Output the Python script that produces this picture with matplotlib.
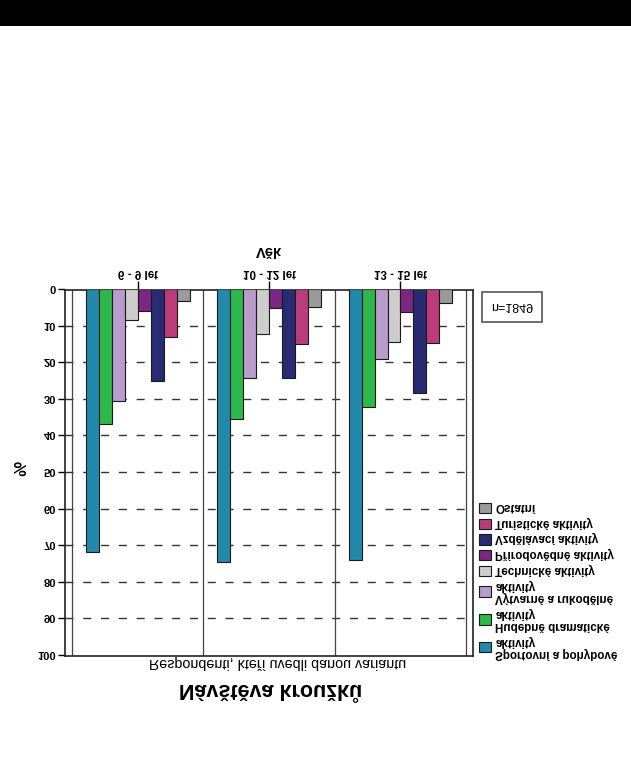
import matplotlib
matplotlib.use("Agg")
import matplotlib.pyplot as plt
import numpy as np

# --- DATA ---
groups = ["6 - 9 let", "10 - 12 let", "13 - 15 let"]
activities = [
    "Sportovní a pohybové\naktivity",
    "Hudebně dramatické\naktivity",
    "Výtvarné a rukodělné\naktivity",
    "Technické aktivity",
    "Přírodovědné aktivity",
    "Vzdělávací aktivity",
    "Turistické aktivity",
    "Ostatní",
]
values_6_9 = [71.8, 37.0, 30.6, 8.5, 5.9, 25.1, 13.2, 3.4]
values_10_12 = [74.5, 35.4, 24.3, 12.3, 5.3, 24.3, 15.1, 4.8]
values_13_15 = [74.1, 32.2, 19.0, 14.5, 6.4, 28.3, 14.7, 3.9]
colors = ["#2389AB", "#2DB84A", "#B99CCB", "#CDCDCD",
          "#7B2682", "#282A72", "#BC3C7B", "#9A9A9A"]
n_label = "n=1849"

# --- STYLE ---
plt.rcParams['font.family'] = ['Liberation Sans', 'DejaVu Sans']
plt.rcParams['lines.scale_dashes'] = False

W, H = 631, 763
fig = plt.figure(figsize=(W / 100, H / 100), dpi=100)

# figure coordinates: x = px/W, y = px/H measured from the top of the
# reference (the rendered picture is flipped top-bottom at the end)
def fx(px):
    return px / W

def fy(py):
    return py / H

ax = fig.add_axes([fx(65), fy(290), fx(473) - fx(65), fy(656) - fy(290)])

pad = 7 / 131.7
ax.set_xlim(-pad, 3 + pad)
ax.set_ylim(0, 100)

all_values = [values_6_9, values_10_12, values_13_15]
bar_w = 13 / 131.7
margin = 14 / 131.7
for g, vals in enumerate(all_values):
    for i, v in enumerate(vals):
        ax.bar(g + margin + i * bar_w, v, width=bar_w, align='edge',
               color=colors[i], edgecolor='#1a1a1a', linewidth=0.8,
               zorder=3, label=activities[i] if g == 0 else None)

# dashed grid and group separators
for yv in range(10, 100, 10):
    ax.axhline(yv, color='#333333', lw=1.0, dashes=(5.8, 7.0), zorder=1)
for xv in range(4):
    ax.axvline(xv, color='#444444', lw=0.9, zorder=2)

for sp in ax.spines.values():
    sp.set_color('#222222')
    sp.set_linewidth(1.2)

ax.set_yticks(np.arange(0, 101, 10))
ax.set_yticklabels([str(v) for v in range(0, 101, 10)],
                   fontsize=8, fontweight='bold')
ax.tick_params(axis='y', length=5, width=1.0, pad=1.5)
ax.set_xticks([0.5, 1.5, 2.5])
ax.set_xticklabels(groups, fontsize=8.3, fontweight='bold')
ax.tick_params(axis='x', length=6, width=1.0, pad=1.5)

fig.text(fx(269), fy(252), "Věk", ha='center', va='center',
         fontsize=10.5, fontweight='bold')
fig.text(fx(22), fy(470), "%", ha='center', va='center',
         fontsize=12, fontweight='bold', rotation=90)
fig.text(fx(278), fy(664), "Respondenti, kteří uvedli danou variantu",
         ha='center', va='center', fontsize=10.3)
fig.text(fx(271), fy(690), "Návštěva kroužků", ha='center', va='center',
         fontsize=15.5, fontweight='bold')

fig.text(fx(512), fy(307), n_label, ha='center', va='center', fontsize=9,
         bbox=dict(boxstyle='square,pad=0.75', facecolor='white',
                   edgecolor='#555555', linewidth=1.2))

leg = fig.legend(loc='upper left', bbox_to_anchor=(fx(479), fy(661)),
                 frameon=False, fontsize=8.4, handlelength=1.0,
                 handleheight=1.0, handletextpad=0.4, labelspacing=0.3,
                 borderaxespad=0, borderpad=0)
for t in leg.get_texts():
    t.set_fontweight('bold')
    t.set_linespacing(1.05)

# black bar along the top edge of the reference
fig.patches.append(plt.Rectangle((0, 0), 1, fy(26), transform=fig.transFigure,
                                 facecolor='black', edgecolor='none'))

# the reference is mirrored top-bottom, so flip the rendered picture
fig.canvas.draw()
img = np.asarray(fig.canvas.buffer_rgba())
plt.imsave("out.png", img[::-1])
